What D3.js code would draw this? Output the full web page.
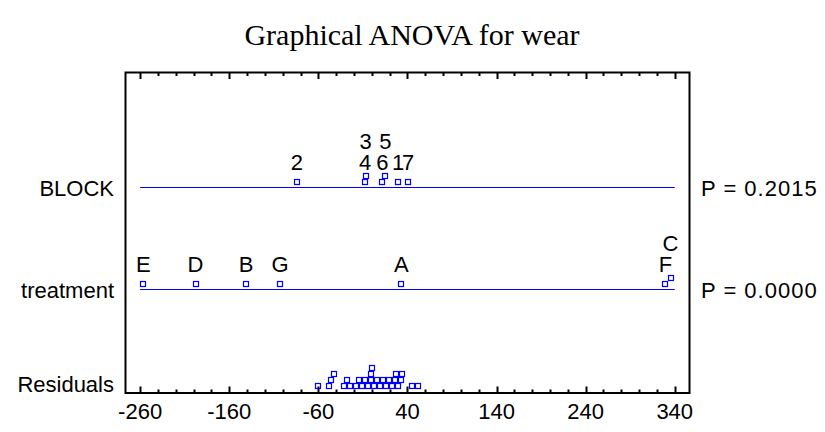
<!DOCTYPE html>
<html lang="en">
<head>
  <meta charset="UTF-8">
  <title>Graphical ANOVA for wear</title>
  <style>
    body { margin: 0; background: #fff; }
    svg { display: block; }
    .lbl { font-family: "Liberation Sans", Arial, sans-serif; font-size: 22px; fill: #000; }
    .plbl { letter-spacing: 1px; }
    .title { font-family: "Liberation Serif", "Times New Roman", serif; font-size: 30px; fill: #000; }
    .pt { fill: none; stroke: #0000ff; stroke-width: 1.2px; }
  </style>
</head>
<body>
  <svg width="825" height="432"></svg>
  <script src="https://d3js.org/d3.v7.min.js"></script>
  <script>
    const rows = ["BLOCK", "treatment", "Residuals"];
    const pValues = ["P = 0.2015", "P = 0.0000", ""];

    const blockNames = ["1", "2", "3", "4", "5", "6", "7"];
    const blockEffects = [29.6, -84.0, -7.0, -7.4, 15.2, 11.9, 40.8];

    const treatNames = ["A", "B", "C", "D", "E", "F", "G"];
    const treatEffects = [33.2, -141.0, 335.3, -197.8, -256.3, 329.5, -103.0];

    const residuals = [-60.4, -48.0, -45.8, -42.4, -31.2, -27.9, -24.5, -17.8, -14.4,
      -11.0, -7.7, -4.3, -0.9, -0.5, 0.2, 2.4, 5.8, 9.2, 12.5, 15.9, 19.2, 22.6,
      26.0, 27.1, 29.3, 32.7, 33.6, 45.0, 51.8];

    const majorTicks = [-260, -160, -60, 40, 140, 240, 340];

    const box = { left: 125, right: 689, top: 72, bottom: 392.5 };

    const svg = d3.select("svg");

    const x = d3.scaleLinear().domain([-277, 356]).range([box.left, box.right]);
    const y = d3.scalePoint().domain(rows).range([186.5, 391]);
    const rowY = r => Math.round(y(r)) + 0.5;

    svg.append("text")
      .attr("class", "title")
      .attr("x", 412)
      .attr("y", 45)
      .attr("text-anchor", "middle")
      .text("Graphical ANOVA for wear");

    // frame
    svg.append("rect")
      .attr("x", box.left + 0.5)
      .attr("y", box.top + 0.5)
      .attr("width", box.right - box.left)
      .attr("height", box.bottom - box.top)
      .attr("fill", "none")
      .attr("stroke", "#000")
      .attr("stroke-width", 2);

    // inward ticks, bottom and top
    const minorTicks = d3.range(-260, 341, 20);
    svg.selectAll(".tk")
      .data(minorTicks)
      .join("g")
      .each(function (d) {
        const len = majorTicks.includes(d) ? 6 : 3;
        const xx = Math.round(x(d)) + 0.5;
        d3.select(this).append("line")
          .attr("x1", xx).attr("x2", xx)
          .attr("y1", box.bottom).attr("y2", box.bottom - len)
          .attr("stroke", "#000").attr("stroke-width", 2);
        d3.select(this).append("line")
          .attr("x1", xx).attr("x2", xx)
          .attr("y1", box.top + 1).attr("y2", box.top + 1 + len)
          .attr("stroke", "#000").attr("stroke-width", 2);
      });

    svg.selectAll(".xlab")
      .data(majorTicks)
      .join("text")
      .attr("class", "lbl")
      .attr("x", d => x(d))
      .attr("y", 419)
      .attr("text-anchor", "middle")
      .text(d => d);

    // row labels and p-values
    svg.selectAll(".rlab")
      .data(rows)
      .join("text")
      .attr("class", "lbl")
      .attr("x", 114)
      .attr("y", d => rowY(d) + (d === "Residuals" ? 0 : 8))
      .attr("text-anchor", "end")
      .text(d => d);

    svg.selectAll(".plab")
      .data(rows.filter((r, i) => pValues[i]))
      .join("text")
      .attr("class", "lbl plbl")
      .attr("x", 701)
      .attr("y", d => rowY(d) + 8)
      .text(d => pValues[rows.indexOf(d)]);

    // horizontal reference lines for effects
    svg.selectAll(".rline")
      .data(rows.slice(0, 2))
      .join("line")
      .attr("stroke", "#0000ff")
      .attr("stroke-width", 1.2)
      .attr("x1", x(-260)).attr("x2", x(340))
      .attr("y1", d => rowY(d)).attr("y2", d => rowY(d));

    // stack overlapping points upward
    function stack(vals) {
      const order = d3.range(vals.length).sort((a, b) => vals[a] - vals[b]);
      const placed = [];
      const level = new Array(vals.length);
      order.forEach(i => {
        let lv = 0;
        while (placed.some(p => p.lv === lv && Math.abs(x(p.v) - x(vals[i])) < 5.5)) lv++;
        placed.push({ v: vals[i], lv });
        level[i] = lv;
      });
      return level;
    }

    function drawRow(row, vals, names) {
      const lv = stack(vals);
      const base = rowY(row);
      const pts = vals.map((v, i) => ({ v, lv: lv[i], name: names ? names[i] : null }));
      svg.append("g").selectAll("rect")
        .data(pts)
        .join("rect")
        .attr("class", "pt")
        .attr("x", d => Math.round(x(d.v)) - 2.5)
        .attr("y", d => base - 8 - d.lv * 6)
        .attr("width", 5)
        .attr("height", 5);
      if (names) {
        svg.append("g").selectAll("text")
          .data(pts)
          .join("text")
          .attr("class", "lbl")
          .attr("x", d => x(d.v))
          .attr("y", d => base - 17.5 - d.lv * 21)
          .attr("text-anchor", "middle")
          .text(d => d.name);
      }
    }

    drawRow("BLOCK", blockEffects, blockNames);
    drawRow("treatment", treatEffects, treatNames);
    drawRow("Residuals", residuals, null);
  </script>
</body>
</html>
